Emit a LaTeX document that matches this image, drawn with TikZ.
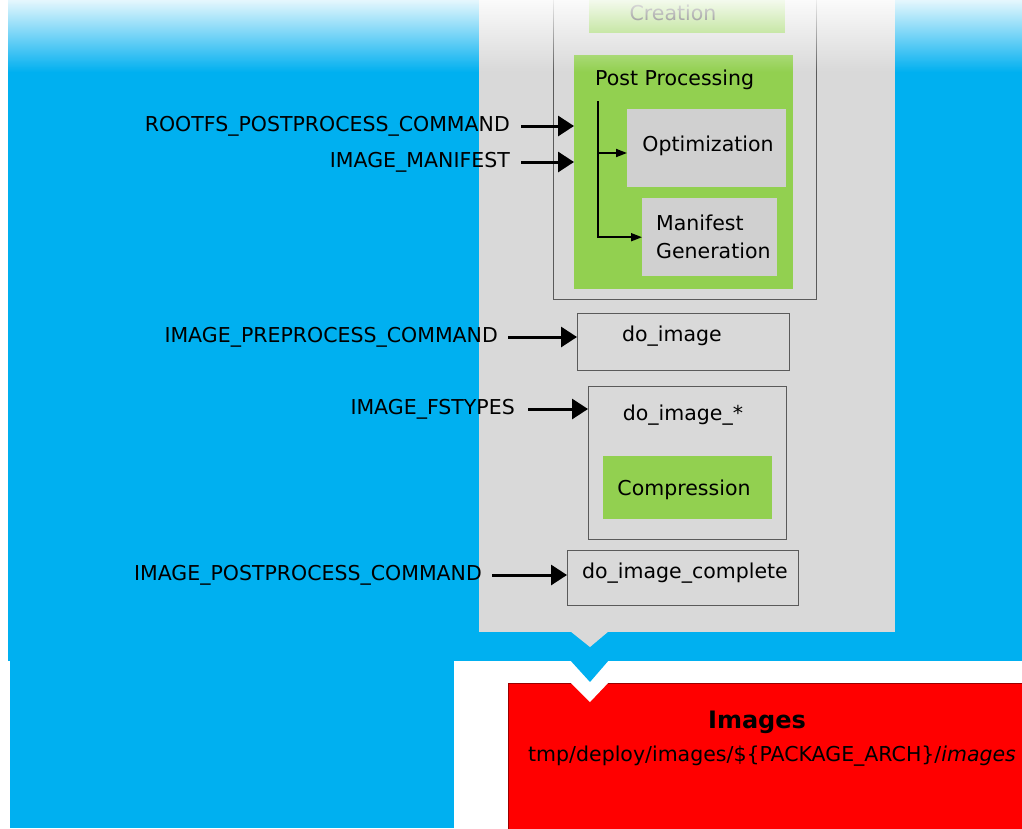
\documentclass[tikz,border=0pt]{standalone}
\usepackage{fontspec}
\setmainfont{DejaVu Sans}
\usetikzlibrary{arrows.meta,fadings}
\definecolor{skyblue}{HTML}{00B0F0}
\definecolor{leaf}{HTML}{92D050}
\definecolor{panel}{HTML}{D9D9D9}
\definecolor{inner}{HTML}{D0D0D0}
\definecolor{frame}{HTML}{5A5A5A}
\definecolor{alarm}{HTML}{FF0000}

\begin{document}
\begin{tikzpicture}[x=1pt,y=-1pt,
  lbl/.style={anchor=east,inner sep=0pt,font=\fontsize{20.5}{24}\selectfont},
  txt/.style={inner sep=0pt,font=\fontsize{20.5}{24}\selectfont},
  taskbox/.style={draw=frame,line width=1.2pt,fill=panel,anchor=north west,inner sep=0pt},
  greenbox/.style={fill=leaf,anchor=north west,inner sep=0pt},
  greybox/.style={fill=inner,anchor=north west,inner sep=0pt},
  feed/.style={line width=3pt,-{Triangle[length=16pt,width=20pt]}},
  branch/.style={line width=1.8pt,-{Triangle[length=11pt,width=8pt]}},
]
\useasboundingbox (0,0) rectangle (1022,828);
\fill[white] (0,0) rectangle (1022,828);

% blue backdrop with its lower left leg
\fill[skyblue] (8,0) rectangle (1022,661);
\fill[skyblue] (10,661) rectangle (454,828);
\fill[skyblue] (570,660) -- (609,660) -- (590,682) -- cycle;

% result block
\fill[alarm, draw=alarm!60!black, line width=0.8pt] (508,683) rectangle (1040,850);
\fill[white] (570,682) -- (609,682) -- (590,702) -- cycle;
\node[inner sep=0pt,font=\fontsize{24}{28}\selectfont\bfseries] (imgtitle) at (757,722) {Images};
\node[inner sep=0pt,anchor=west,font=\fontsize{20.5}{24}\selectfont] (imgpath) at (528,756)
  {tmp/deploy/images/\$\{PACKAGE\_ARCH\}/\textit{images}};

% grey task panel with its pointer
\fill[panel] (479,-5) rectangle (895,632);
\fill[panel] (570,631) -- (609,631) -- (590,647) -- cycle;

% rootfs task frame
\node[taskbox, fill=none, minimum width=263pt, minimum height=309pt] (rootfsbox) at (553,-10) {};
\node[greenbox, minimum width=196pt, minimum height=43pt] (creation) at (589,-10) {};
\node[txt] (creationtxt) at (673,13) {Creation};

% post processing
\node[greenbox, minimum width=219pt, minimum height=234pt] (post) at (574,55) {};
\node[txt,anchor=west] (posttxt) at (595,80) {Post Processing};
\node[greybox, minimum width=159pt, minimum height=78pt] (opt) at (627,109) {};
\node[txt] (opttxt) at (708,146) {Optimization};
\node[greybox, minimum width=135pt, minimum height=78pt] (man) at (642,198) {};
\node[txt,align=left,anchor=west,font=\fontsize{20.5}{28}\selectfont] (mantxt) at (656,237) {Manifest\\Generation};

\coordinate (trunk) at (598,101);
\draw[branch] (trunk) |- (man.west);
\draw[branch] (trunk |- 0,153) -- (opt.west |- 0,153);

% image tasks
\node[taskbox, minimum width=212pt, minimum height=57pt] (doimg) at (577,313) {};
\node[txt] (doimgtxt) at (672,336) {do\_image};
\node[taskbox, minimum width=198pt, minimum height=153pt] (doimgstar) at (588,386) {};
\node[txt] (doimgstartxt) at (683,415) {do\_image\_*};
\node[greenbox, minimum width=169pt, minimum height=63pt] (compress) at (603,456) {};
\node[txt] (compresstxt) at (684,490) {Compression};
\node[taskbox, minimum width=231pt, minimum height=55pt] (complete) at (567,550) {};
\node[txt] (completetxt) at (685,573) {do\_image\_complete};

% variables feeding the tasks
\node[lbl] (rootfs) at (510,126) {ROOTFS\_POSTPROCESS\_COMMAND};
\node[lbl] (manifest) at (510,162) {IMAGE\_MANIFEST};
\node[lbl] (preproc) at (498,337) {IMAGE\_PREPROCESS\_COMMAND};
\node[lbl] (fstypes) at (515,409) {IMAGE\_FSTYPES};
\node[lbl] (postproc) at (482,575) {IMAGE\_POSTPROCESS\_COMMAND};

\draw[feed] ([xshift=11pt]rootfs.east) -- (rootfs.east -| post.west);
\draw[feed] ([xshift=11pt]manifest.east) -- (manifest.east -| post.west);
\draw[feed] ([xshift=10pt]preproc.east) -- (preproc.east -| doimg.west);
\draw[feed] ([xshift=13pt]fstypes.east) -- (fstypes.east -| doimgstar.west);
\draw[feed] ([xshift=10pt]postproc.east) -- (postproc.east -| complete.west);

% white haze along the top edge
\fill[white, path fading=south] (0,-8) rectangle (1022,72);
\end{tikzpicture}
\end{document}
